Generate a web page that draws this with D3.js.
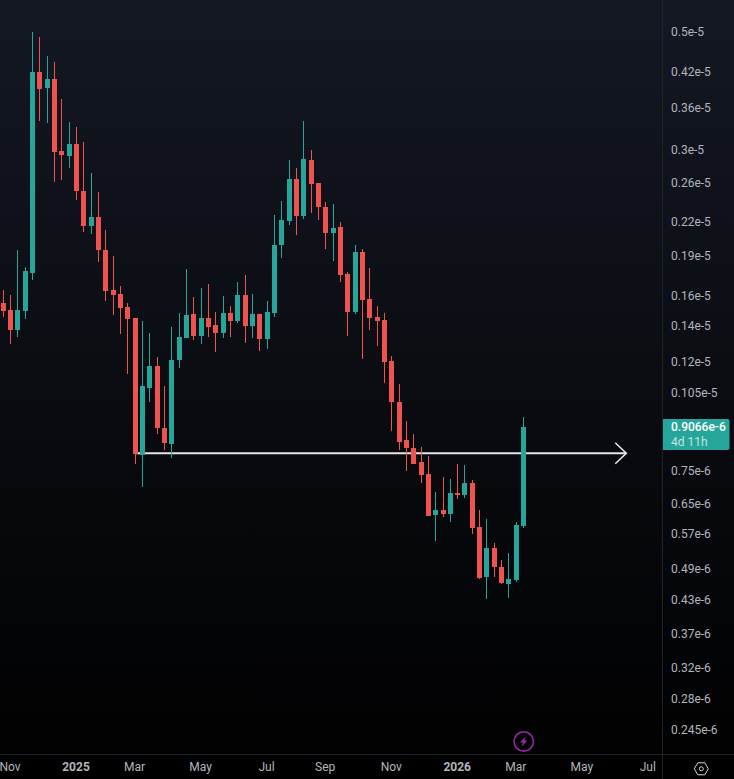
<!DOCTYPE html>
<html><head><meta charset="utf-8">
<script src="https://cdnjs.cloudflare.com/ajax/libs/d3/7.8.5/d3.min.js"></script>
<style>
html,body{margin:0;padding:0;background:#000;overflow:hidden}
svg{display:block}
text{font-family:Roboto,"Liberation Sans",sans-serif}
</style></head><body><svg id="c" width="734" height="779"></svg>
<script>
// Weekly candles, prices in units of 1e-8
const UNIT = 1e-8;
const opens = [155.0,150.3,137.9,149.7,176.4,420.6,392.5,408.1,298.9,292.6,308.2,251.4,216.2,224.7,194.8,163.9,161.1,152.3,145.3,80.3,107.3,118.0,90.3,84.2,121.1,133.2,147.8,134.4,145.3,140.9,136.1,148.4,143.4,160.4,140.3,147.8,132.6,148.4,199.1,220.9,264.9,225.7,287.5,260.3,234.7,209.7,215.2,175.6,149.0,193.2,157.7,145.9,144.0,120.6,101.0,85.7,82.8,77.9,74.0,62.0,63.3,62.2,68.1,67.5,71.2,58.8,47.4,53.8,49.5,46.0,46.8,59.1];
const highs = [163.9,160.4,194.8,181.0,500.0,489.4,450.7,439.2,374.2,338.9,331.7,310.8,271.8,250.3,212.4,189.9,166.8,155.0,145.3,143.4,136.1,122.7,108.3,139.7,148.4,179.5,159.1,165.3,168.2,149.0,159.8,153.0,169.7,174.9,161.1,147.8,156.3,226.7,240.8,287.5,277.7,340.3,300.2,260.3,239.7,237.7,219.9,177.2,199.1,195.7,180.3,153.0,148.4,123.2,109.2,93.0,88.0,83.2,80.0,68.4,73.0,72.4,77.3,77.0,72.1,63.3,60.9,54.9,51.0,52.6,60.1,94.7];
const lows = [145.9,129.8,133.8,144.6,171.1,340.3,337.5,261.5,263.7,277.7,241.8,210.6,208.8,185.0,156.3,147.1,135.5,114.0,77.3,69.9,101.0,88.0,82.1,79.3,117.0,133.2,132.0,129.8,133.8,125.4,133.2,133.8,142.2,130.4,133.2,126.0,127.0,145.9,188.2,217.1,207.9,222.8,228.7,221.8,195.7,185.8,169.7,134.4,147.8,121.6,137.9,128.7,109.7,89.1,82.1,75.0,77.3,71.2,61.7,55.4,61.4,60.1,66.4,66.7,57.1,47.0,43.1,47.4,46.0,43.3,46.4,58.6];
const closes = [149.7,137.9,150.3,177.9,420.6,390.8,408.1,297.7,293.9,308.2,251.4,216.2,224.7,194.8,163.2,160.4,151.6,144.6,80.7,108.3,118.0,90.3,84.6,121.1,133.8,147.1,134.4,145.3,139.7,136.1,148.4,143.4,160.4,140.3,147.8,132.6,149.0,199.1,221.8,264.9,225.7,288.8,259.2,234.7,209.7,214.2,174.9,149.0,193.2,157.0,145.3,143.4,120.1,101.0,85.0,82.8,77.3,73.7,61.7,63.3,62.2,68.1,67.5,71.2,58.6,47.2,53.8,49.5,46.2,47.0,59.3,90.66];

const priceTicks = [5e-6,4.2e-6,3.6e-6,3e-6,2.6e-6,2.2e-6,1.9e-6,1.6e-6,1.4e-6,1.2e-6,1.05e-6,7.5e-7,6.5e-7,5.7e-7,4.9e-7,4.3e-7,3.7e-7,3.2e-7,2.8e-7,2.45e-7];
const priceLabels = ["0.5e-5","0.42e-5","0.36e-5","0.3e-5","0.26e-5","0.22e-5","0.19e-5","0.16e-5","0.14e-5","0.12e-5","0.105e-5","0.75e-6","0.65e-6","0.57e-6","0.49e-6","0.43e-6","0.37e-6","0.32e-6","0.28e-6","0.245e-6"];
const timeTicks = [1,10,18,27,36,44,53,62,70,79,88];
const timeLabels = ["Nov","2025","Mar","May","Jul","Sep","Nov","2026","Mar","May","Jul"];
const lineStart = 18, lineEnd = 85, linePrice = 81.0;
const lastLabel = "0.9066e-6", lastTimer = "4d 11h";

const UP = "#26a69a", DOWN = "#ef5350", TEXT = "#b2b5be", BORDER = "#1f222b", BADGE = "#9c27b0";
const W = 734, H = 779, paneW = 662, paneH = 754;

const svg = d3.select("#c");
const defs = svg.append("defs");
const g = defs.append("linearGradient").attr("id","bg").attr("x1",0).attr("y1",0).attr("x2",0).attr("y2",1);
g.append("stop").attr("offset",0).attr("stop-color","#141823");
g.append("stop").attr("offset",1).attr("stop-color","#000000");
svg.append("rect").attr("width",W).attr("height",H).attr("fill","url(#bg)");

const x = d3.scaleLinear().domain([0,71]).range([3.2,523.63]);
const y = d3.scaleLog().domain([5e-6,2.45e-7]).range([32,730]);
const data = opens.map((o,i)=>({i,o:o*UNIT,h:highs[i]*UNIT,l:lows[i]*UNIT,c:closes[i]*UNIT}));

// trend line with arrow (behind the candles)
const lx1 = x(lineStart), lx2 = x(lineEnd), ly = y(linePrice*UNIT);
svg.append("line").attr("x1",lx1).attr("x2",lx2).attr("y1",ly).attr("y2",ly)
  .attr("stroke","#e6e6e6").attr("stroke-width",2);
svg.append("path").attr("d",d3.line()([[lx2-11,ly-10.5],[lx2,ly],[lx2-11,ly+10.5]]))
  .attr("fill","none").attr("stroke","#e6e6e6").attr("stroke-width",1.6);

// candles
const cs = svg.append("g").attr("shape-rendering","crispEdges");
const col = d=>d.c>=d.o?UP:DOWN;
cs.selectAll("rect.w").data(data).join("rect").attr("class","w")
  .attr("x",d=>Math.floor(x(d.i))).attr("width",1)
  .attr("y",d=>Math.round(y(d.h))).attr("height",d=>Math.round(y(d.l))-Math.round(y(d.h)))
  .attr("fill",col);
cs.selectAll("rect.b").data(data).join("rect").attr("class","b")
  .attr("x",d=>Math.floor(x(d.i))-2).attr("width",5)
  .attr("y",d=>Math.round(y(Math.max(d.o,d.c))))
  .attr("height",d=>Math.max(1,Math.round(y(Math.min(d.o,d.c)))-Math.round(y(Math.max(d.o,d.c)))))
  .attr("fill",col);

// pane borders
svg.append("line").attr("x1",662.5).attr("x2",662.5).attr("y1",0).attr("y2",H).attr("stroke",BORDER);
svg.append("line").attr("x1",0).attr("x2",W).attr("y1",754.5).attr("y2",754.5).attr("stroke",BORDER);

// price axis
const yAxis = d3.axisRight(y).tickValues(priceTicks).tickSize(0).tickPadding(8)
  .tickFormat((d,i)=>priceLabels[i]);
const ya = svg.append("g").attr("transform",`translate(${paneW+1},-0.5)`).call(yAxis);
ya.select(".domain").remove();
ya.selectAll("text").attr("fill",TEXT).attr("font-size",12).attr("font-family","Roboto");

// time axis
const xAxis = d3.axisBottom(x).tickValues(timeTicks).tickSize(0).tickPadding(8)
  .tickFormat((d,i)=>timeLabels[i]);
const xa = svg.append("g").attr("transform",`translate(-1,${paneH})`).call(xAxis);
xa.select(".domain").remove();
xa.selectAll("text").attr("fill",TEXT).attr("font-size",12).attr("font-family","Roboto")
  .attr("font-weight",(d,i)=>/^\d/.test(timeLabels[i])?700:400);

// last price label
svg.append("path").attr("d","M663 419H727.5a2 2 0 0 1 2 2V448a2 2 0 0 1 -2 2H663Z").attr("fill",UP);
svg.append("text").attr("x",671).attr("y",431).attr("fill","#fff").attr("font-size",12).attr("font-weight",500).text(lastLabel);
svg.append("text").attr("x",671).attr("y",446).attr("fill","#fff").attr("fill-opacity",.72).attr("font-size",12).text(lastTimer);

// lightning badge
const b = svg.append("g").attr("transform","translate(523.7,741.5)");
b.append("circle").attr("r",9.7).attr("fill","none").attr("stroke",BADGE).attr("stroke-width",1.5);
b.append("path").attr("d","M2.2 -5.6L-3.6 1H-0.6L-2.2 5.6L3.6 -1H0.6Z").attr("fill",BADGE);

// settings icon
const s = svg.append("g").attr("transform","translate(701.3,768.8)").attr("fill","none").attr("stroke","#d1d4dc").attr("stroke-width",1);
s.append("path").attr("d","M-7 0L-3.5 -6H3.5L7 0L3.5 6H-3.5Z");
s.append("circle").attr("r",2);
</script></body></html>
